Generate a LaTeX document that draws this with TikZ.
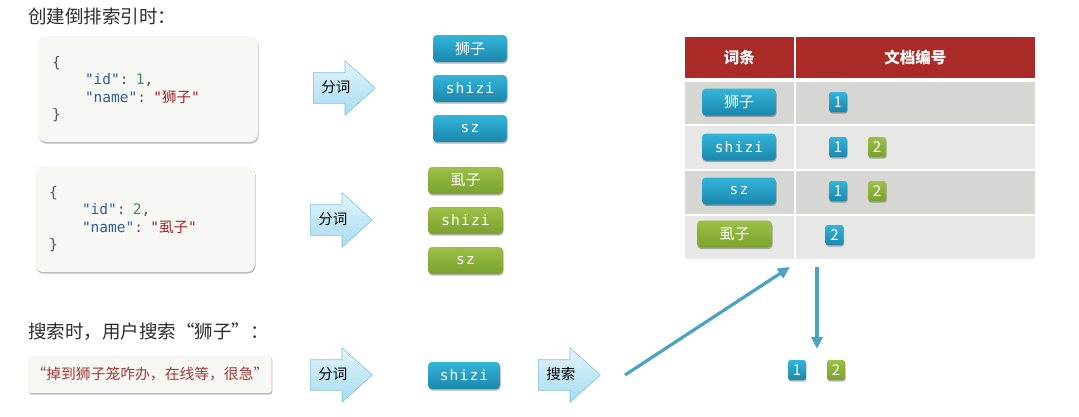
\documentclass[tikz,border=0pt]{standalone}
\usepackage{fontspec}
\setmainfont{Noto Sans CJK SC}
\newfontfamily\cjk{Noto Sans CJK SC}
\newfontfamily\mono{DejaVu Sans Mono}
\newfontfamily\monosp[LetterSpace=8]{DejaVu Sans Mono}
\usetikzlibrary{shapes.arrows,shadows,arrows.meta}
\definecolor{titlegray}{HTML}{2E2E2E}
\definecolor{keyblue}{HTML}{2F5F9A}
\definecolor{numgreen}{HTML}{3C8F5C}
\definecolor{strred}{HTML}{A0282A}
\definecolor{bracegray}{HTML}{555555}
\definecolor{boxfill}{HTML}{F7F7F4}
\definecolor{tokbluetop}{HTML}{34B4DA}
\definecolor{tokbluebot}{HTML}{1A87AC}
\definecolor{tokgreentop}{HTML}{9CC047}
\definecolor{tokgreenbot}{HTML}{7BA12E}
\definecolor{arrtop}{HTML}{E2F5FC}
\definecolor{arrbot}{HTML}{A6DBF0}
\definecolor{arrdraw}{HTML}{86C4DE}
\definecolor{hdrred}{HTML}{AA2B28}
\definecolor{rowdark}{HTML}{D6D6D3}
\definecolor{rowlight}{HTML}{E7E7E5}
\definecolor{linkblue}{HTML}{4BA2C2}
\definecolor{querytext}{HTML}{A33A3A}
\tikzset{
  shad/.style={drop shadow={shadow xshift=0.6pt,shadow yshift=-1.6pt,opacity=0.28,fill=black}},
  jsonbox/.style={shad,fill=boxfill,rounded corners=8pt,draw=none,align=left,text width=192pt,
    inner xsep=14pt,minimum height=106pt,font=\mono\fontsize{14.5}{17.5}\selectfont,text=bracegray},
  fatarrow/.style={single arrow,single arrow head extend=12pt,single arrow tip angle=84,
    minimum height=62pt,inner xsep=4pt,inner ysep=8pt,text height=11pt,text depth=3pt,
    top color=arrtop,bottom color=arrbot,draw=arrdraw,line width=0.6pt,anchor=tail,
    font=\cjk\fontsize{14.5}{16}\selectfont,text=black},
  tokblue/.style={shad,rounded corners=4pt,top color=tokbluetop,bottom color=tokbluebot,
    minimum width=74pt,minimum height=27pt,text=white,inner sep=0pt},
  tokgreen/.style={shad,rounded corners=4pt,top color=tokgreentop,bottom color=tokgreenbot,
    minimum width=75pt,minimum height=27pt,text=white,inner sep=0pt},
  cjktok/.style={font=\cjk\fontsize{15}{17}\selectfont},
  montok/.style={font=\monosp\fontsize{14.5}{17}\selectfont},
  badgeblue/.style={shad,rounded corners=2.5pt,top color=tokbluetop,bottom color=tokbluebot,
    minimum width=18pt,minimum height=20pt,inner sep=0pt,text=white,font=\fontsize{15}{16}\selectfont},
  badgegreen/.style={shad,rounded corners=2.5pt,top color=tokgreentop,bottom color=tokgreenbot,
    minimum width=18pt,minimum height=20pt,inner sep=0pt,text=white,font=\fontsize{15}{16}\selectfont},
  cell/.style={draw=white,line width=1.5pt,inner sep=0pt,anchor=north west},
  heading/.style={font=\cjk\fontsize{18.5}{21}\selectfont,text=titlegray,anchor=west,inner sep=0pt},
  link/.style={draw=linkblue,line width=3.2pt,-{Triangle[length=12pt,width=11pt]}}
}
\begin{document}
\begin{tikzpicture}[x=1pt,y=-1pt]
\path[use as bounding box,fill=white] (0,0) rectangle (1079,416);

% headings
\node[heading] (t1) at (28,16) {创建倒排索引时：};
\node[heading] (t2) at (28,332) {搜索时，用户搜索“狮子”：};

% JSON documents
\node[jsonbox] (j1) at (148,89) {\{\\
\hspace*{33pt}{\color{keyblue}"id"}: {\color{numgreen}1},\\
\hspace*{33pt}{\color{keyblue}"name"}: {\color{strred}"{\cjk 狮子}"}\\
\}};
\node[jsonbox] (j2) at (145,219) {\{\\
\hspace*{33pt}{\color{keyblue}"id"}: {\color{numgreen}2},\\
\hspace*{33pt}{\color{keyblue}"name"}: {\color{strred}"{\cjk 虱子}"}\\
\}};

% query box
\node[shad,fill=boxfill,rounded corners=3pt,minimum width=237pt,minimum height=38pt,
  text=querytext,font=\cjk\fontsize{14.8}{16}\selectfont] (q) at (150,374) {“掉到狮子笼咋办，在线等，很急”};

% fat arrows
\node[fatarrow] (a1) at (313,88) {分词};
\node[fatarrow] (a2) at (310,220) {分词};
\node[fatarrow] (a3) at (310,375) {分词};
\node[fatarrow] (a4) at (538,375) {搜索};

% tokens of doc 1
\node[tokblue,cjktok] (b1) at (470,48.5) {狮子};
\node[tokblue,montok] (b2) at (470,88.5) {shizi};
\node[tokblue,montok] (b3) at (470,128.5) {sz};
% tokens of doc 2
\node[tokgreen,cjktok] (g1) at (465.5,180.5) {虱子};
\node[tokgreen,montok] (g2) at (465.5,220.5) {shizi};
\node[tokgreen,montok] (g3) at (465.5,260.5) {sz};
% search token
\node[tokblue,montok,minimum width=72pt] (s1) at (464,375.5) {shizi};

% table
\node[cell,fill=hdrred,minimum width=111pt,minimum height=43pt,text=white,
  font=\cjk\bfseries\fontsize{15.5}{17}\selectfont] (h1) at (683,35) {词条};
\node[cell,fill=hdrred,minimum width=241pt,minimum height=43pt,text=white,
  font=\cjk\bfseries\fontsize{15.5}{17}\selectfont] (h2) at (794,35) {文档编号};
\node[cell,fill=rowdark,minimum width=111pt,minimum height=44pt] (r1a) at (683,80) {};
\node[cell,fill=rowdark,minimum width=241pt,minimum height=44pt] (r1b) at (794,80) {};
\node[cell,fill=rowlight,minimum width=111pt,minimum height=45pt] (r2a) at (683,124) {};
\node[cell,fill=rowlight,minimum width=241pt,minimum height=45pt] (r2b) at (794,124) {};
\node[cell,fill=rowdark,minimum width=111pt,minimum height=45pt] (r3a) at (683,169) {};
\node[cell,fill=rowdark,minimum width=241pt,minimum height=45pt] (r3b) at (794,169) {};
\node[cell,fill=rowlight,minimum width=111pt,minimum height=45pt] (r4a) at (683,214) {};
\node[cell,fill=rowlight,minimum width=241pt,minimum height=45pt] (r4b) at (794,214) {};

\node[tokblue,cjktok] (tb1) at (739,102) {狮子};
\node[tokblue,montok] (tb2) at (739,147) {shizi};
\node[tokblue,montok] (tb3) at (739,191) {sz};
\node[tokgreen,cjktok] (tg4) at (734.5,234) {虱子};

\node[badgeblue] (n11) at (838,102) {1};
\node[badgeblue] (n21) at (838,147) {1};
\node[badgegreen] (n22) at (877,147) {2};
\node[badgeblue] (n31) at (838,191) {1};
\node[badgegreen] (n32) at (877,191) {2};
\node[badgeblue] (n42) at (834.5,235) {2};

% result
\node[badgeblue] (res1) at (797,370) {1};
\node[badgegreen] (res2) at (836,370) {2};

% connectors
\coordinate (lstart) at (625,375);
\coordinate (lend) at (790,267);
\coordinate (vstart) at (817,267);
\coordinate (vend) at (817,349);
\draw[link] (lstart) -- (lend);
\draw[link] (vstart) -- (vend);
\end{tikzpicture}
\end{document}
